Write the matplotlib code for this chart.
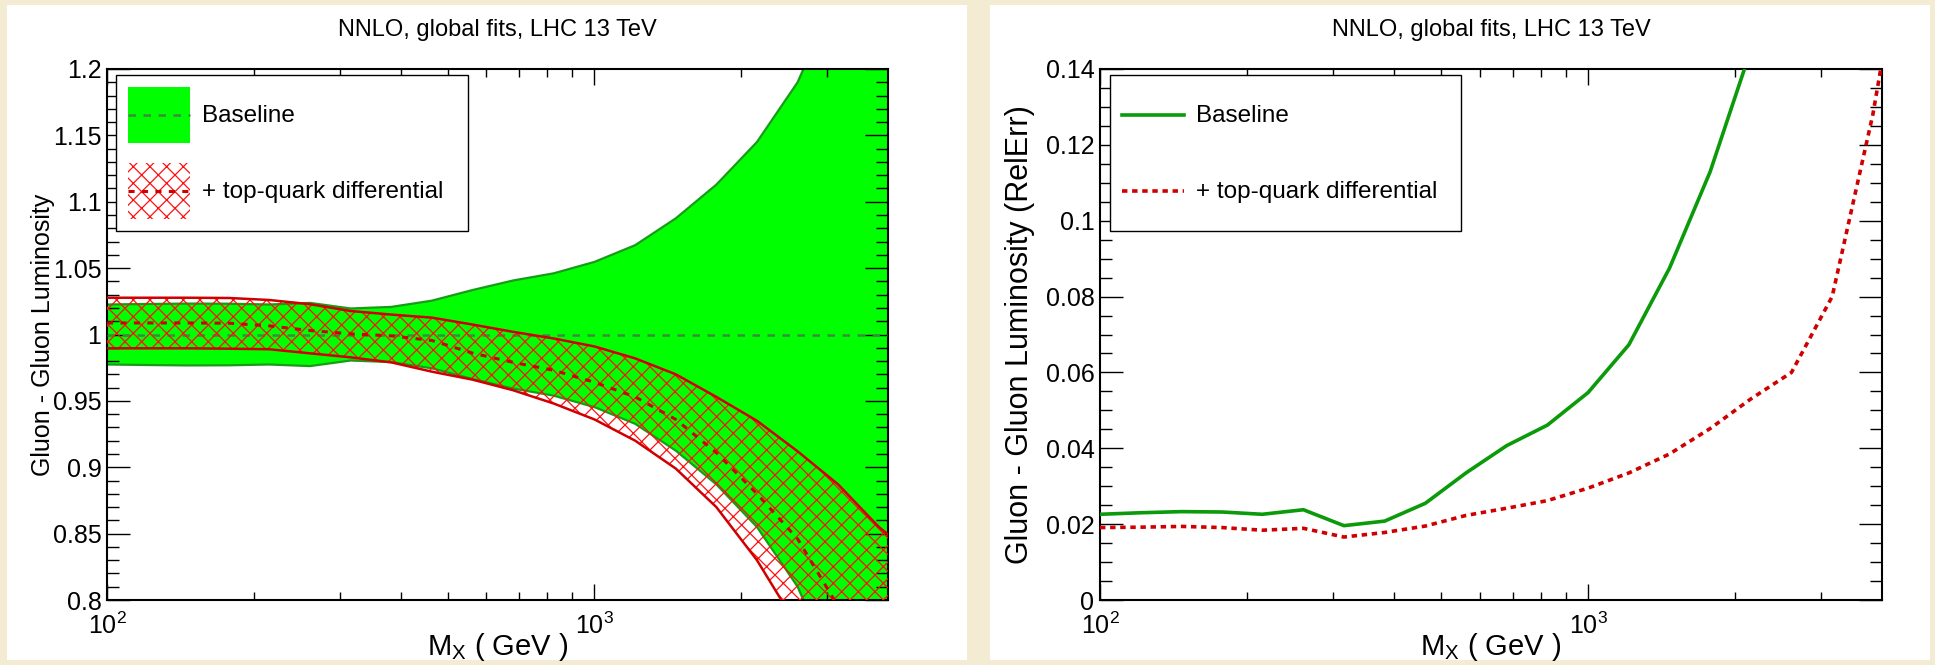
import numpy as np
import matplotlib.pyplot as plt
from matplotlib.patches import Patch, Rectangle
from matplotlib.lines import Line2D
from matplotlib.legend_handler import HandlerLine2D
from matplotlib.ticker import FixedLocator, FuncFormatter, MultipleLocator

plt.rcParams['font.family'] = ['Liberation Sans', 'DejaVu Sans']
plt.rcParams['hatch.linewidth'] = 0.9

# invariant mass grid (GeV), 12 points per decade
mass = [100, 121, 147, 178, 215, 261, 316, 383, 464, 562, 681, 825, 1000,
        1212, 1468, 1778, 2154, 2610, 3162, 3831, 4642]

# baseline relative error (symmetric band around 1)
base_relerr = [0.0226, 0.0230, 0.0233, 0.0232, 0.0226, 0.0238, 0.0196, 0.0208,
               0.0255, 0.0335, 0.0407, 0.0461, 0.0547, 0.0673, 0.0875, 0.1129,
               0.145, 0.19, 0.26, 0.34, 0.44]

# + top-quark differential: ratio to baseline (band + central)
top_upper = [1.0277, 1.0277, 1.0277, 1.0275, 1.026, 1.0228, 1.0177, 1.015,
             1.0127, 1.0075, 1.002, 0.997, 0.991, 0.982, 0.970, 0.953, 0.935,
             0.912, 0.887, 0.855, 0.83]
top_lower = [0.9896, 0.9896, 0.9896, 0.9893, 0.9889, 0.9858, 0.9828, 0.979,
             0.972, 0.966, 0.958, 0.948, 0.936, 0.920, 0.899, 0.870, 0.830,
             0.780, 0.70, 0.62, 0.50]
top_central = [1.0087, 1.0087, 1.0087, 1.0085, 1.0065, 1.003, 1.0005, 0.999,
               0.9955, 0.986, 0.979, 0.973, 0.964, 0.953, 0.936, 0.911, 0.880,
               0.846, 0.795, 0.73, 0.65]
top_relerr = [0.0191, 0.0192, 0.0194, 0.0191, 0.0184, 0.0189, 0.0166, 0.0178,
              0.0195, 0.0223, 0.0242, 0.0262, 0.0295, 0.0335, 0.0385, 0.0452,
              0.053, 0.060, 0.080, 0.128, 0.19]

TITLE = 'NNLO, global fits, LHC 13 TeV'
XLABEL = r'$\mathregular{M_{X}}$ ( GeV )'

GREEN_FILL = '#00ff00'
GREEN_EDGE = '#1a9a1a'
GREEN_LINE = '#0a9a0a'
RED = '#ff1010'
DARK_RED = '#d00000'


# legend line drawn through the middle of the (tall) legend box
class CenteredLine(HandlerLine2D):
    def create_artists(self, legend, orig_handle, xdescent, ydescent, width, height, fontsize, trans):
        artists = super().create_artists(legend, orig_handle, xdescent, ydescent,
                                         width, height, fontsize, trans)
        for a in artists:
            a.set_ydata(np.full(len(a.get_xdata()), height / 2 - ydescent))
        return artists


def style_axes(ax, ymin, ymax, ymajor, yminor):
    ax.set_xscale('log')
    ax.set_xlim(100, 4000)
    ax.set_ylim(ymin, ymax)
    ax.xaxis.set_major_locator(FixedLocator([100, 1000]))
    ax.xaxis.set_minor_locator(FixedLocator([200, 300, 400, 500, 600, 700, 800, 900, 2000, 3000]))
    ax.xaxis.set_major_formatter(FuncFormatter(lambda v, p: r'$\mathregular{10^{%d}}$' % round(np.log10(v))))
    ax.xaxis.set_minor_formatter(FuncFormatter(lambda v, p: ''))
    ax.yaxis.set_major_locator(MultipleLocator(ymajor))
    ax.yaxis.set_minor_locator(MultipleLocator(yminor))
    ax.yaxis.set_major_formatter(FuncFormatter(lambda v, p: '%g' % round(v, 3)))
    ax.tick_params(which='both', direction='in', top=True, right=True, width=1.0, colors='black')
    ax.tick_params(axis='x', which='major', length=11.5, labelsize=18, pad=9)
    ax.tick_params(axis='x', which='minor', length=5.8)
    ax.tick_params(axis='y', which='major', length=16.5, labelsize=18, pad=4)
    ax.tick_params(axis='y', which='minor', length=8.5)
    for s in ax.spines.values():
        s.set_linewidth(1.5)
    ax.text(0.5, 1.062, TITLE, transform=ax.transAxes, ha='center', va='baseline', fontsize=17)
    ax.text(0.5, -0.103, XLABEL, transform=ax.transAxes, ha='center', va='baseline', fontsize=21)


fig = plt.figure(figsize=(19.35, 6.65), dpi=100)
fig.patch.set_facecolor('#f3ecd2')
fig.patches.append(Rectangle((7 / 1935, 5 / 665), 960 / 1935, 655 / 665, transform=fig.transFigure,
                             facecolor='white', edgecolor='none', zorder=-1))
fig.patches.append(Rectangle((990 / 1935, 5 / 665), 940 / 1935, 655 / 665, transform=fig.transFigure,
                             facecolor='white', edgecolor='none', zorder=-1))

leg_kw = dict(loc='upper left', mode='expand', borderaxespad=0, fontsize=17.5,
              handlelength=2.55, handleheight=3.16, handletextpad=0.5, labelspacing=0.82,
              borderpad=0.5, fancybox=False, edgecolor='black', framealpha=1,
              handler_map={Line2D: CenteredLine()})

# ---------------- left: ratio bands ----------------
ax1 = fig.add_axes([107 / 1935, 65 / 665, 781 / 1935, 531 / 665])
m = np.array(mass)
berr = np.array(base_relerr)
ax1.fill_between(m, 1 - berr, 1 + berr, facecolor=GREEN_FILL, edgecolor='none', zorder=1)
ax1.plot(m, 1 + berr, color=GREEN_EDGE, lw=1.6, zorder=2)
ax1.plot(m, 1 - berr, color=GREEN_EDGE, lw=1.6, zorder=2)
ax1.axhline(1.0, color='#3c8c3c', lw=1.8, ls=(0, (3, 3)), zorder=3)
ax1.fill_between(m, top_lower, top_upper, facecolor='none', edgecolor=RED, hatch='xx', lw=0, zorder=4)
ax1.plot(m, top_upper, color=DARK_RED, lw=1.8, zorder=5)
ax1.plot(m, top_lower, color=DARK_RED, lw=1.8, zorder=5)
ax1.plot(m, top_central, color=DARK_RED, lw=2.2, ls=(0, (2.0, 2.4)), zorder=5)
style_axes(ax1, 0.8, 1.2, 0.05, 0.01)
ax1.set_ylabel('Gluon - Gluon Luminosity', fontsize=18)
ax1.yaxis.set_label_coords(-0.066, 0.5)

h_base = (Patch(facecolor=GREEN_FILL, edgecolor='none'),
          Line2D([], [], color='#3c8c3c', lw=1.8, ls=(0, (3, 3))))
h_top = (Patch(facecolor='none', edgecolor=RED, hatch='xx', lw=0),
         Line2D([], [], color=DARK_RED, lw=2.2, ls=(0, (2.0, 2.4))))
leg1 = ax1.legend([h_base, h_top], ['Baseline', '+ top-quark differential'],
                  bbox_to_anchor=(0.0115, 0.689, 0.4505, 0.2995), **leg_kw)
leg1.get_frame().set_linewidth(1.0)

# ---------------- right: relative errors ----------------
ax2 = fig.add_axes([1100 / 1935, 65 / 665, 782 / 1935, 531 / 665])
ax2.plot(m, base_relerr, color=GREEN_LINE, lw=2.6, zorder=3)
ax2.plot(m, top_relerr, color=DARK_RED, lw=2.6, ls=(0, (1.5, 1.3)), zorder=3)
style_axes(ax2, 0.0, 0.14, 0.02, 0.005)
ax2.set_ylabel('Gluon - Gluon Luminosity (RelErr)', fontsize=22)
ax2.yaxis.set_label_coords(-0.083, 0.5)

h2_base = Line2D([], [], color=GREEN_LINE, lw=2.6)
h2_top = Line2D([], [], color=DARK_RED, lw=2.6, ls=(0, (1.5, 1.3)))
leg2 = ax2.legend([h2_base, h2_top], ['Baseline', '+ top-quark differential'],
                  bbox_to_anchor=(0.0128, 0.689, 0.449, 0.2995), **leg_kw)
leg2.get_frame().set_linewidth(1.0)

fig.savefig('out.png', dpi=100, facecolor=fig.get_facecolor())
